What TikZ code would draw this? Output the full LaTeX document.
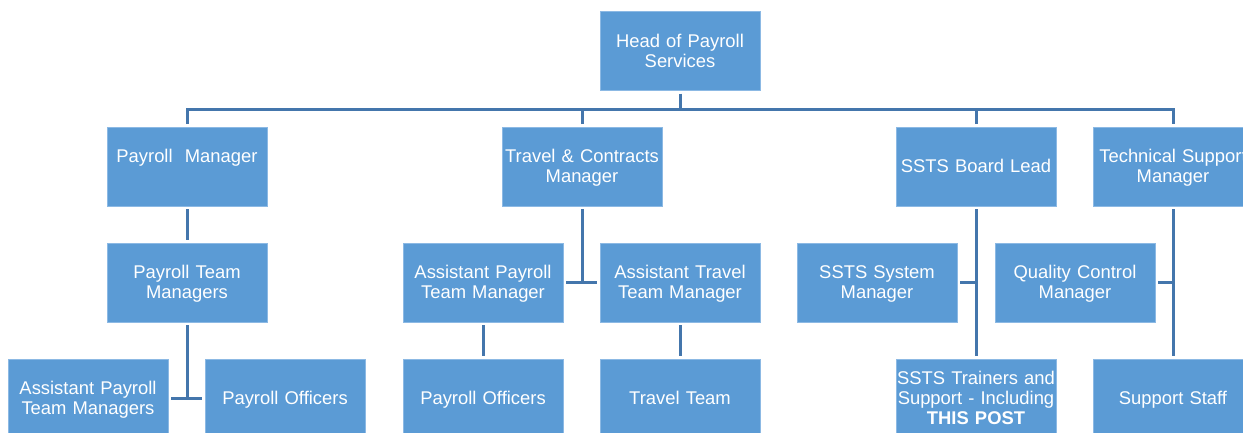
\documentclass[tikz,border=0pt]{standalone}
\usepackage{fontspec}
\setmainfont{Liberation Sans}
\definecolor{boxfill}{RGB}{91,155,213}
\definecolor{boxedge}{RGB}{140,185,228}
\definecolor{linkcol}{RGB}{68,118,172}
\newcommand\firstl{\rule{0pt}{18pt}}
\begin{document}
\begin{tikzpicture}[x=1pt,y=-1pt,
  post/.style={rectangle, fill=boxfill, draw=boxedge, line width=0.8pt,
    minimum width=160pt, minimum height=79pt, inner sep=0pt, outer sep=3pt,
    text=white, align=center, text width=158pt,
    font=\fontsize{18.4}{20}\selectfont},
  link/.style={draw=linkcol, line width=3pt}]
\useasboundingbox (0,0) rectangle (1243,432);
\clip (0,0) rectangle (1243,432);
% row 0
\node[post] (head) at (680,51) {\firstl\strut Head of Payroll\\\strut Services};
% row 1
\node[post] (pm)  at (187,166.5) {\firstl\strut Payroll\ \ Manager\\\strut};
\node[post] (tcm) at (582,166.5) {\firstl\strut Travel \& Contracts\\\strut Manager};
\node[post] (sbl) at (976,166.5) {\firstl\strut SSTS Board Lead};
\node[post] (tsm) at (1173,166.5) {\firstl\strut Technical Support\\\strut Manager};
% row 2
\node[post] (ptm)  at (187,282.5) {\firstl\strut Payroll Team\\\strut Managers};
\node[post] (aptm) at (483,282.5) {\firstl\strut Assistant Payroll\\\strut Team Manager};
\node[post] (attm) at (680,282.5) {\firstl\strut Assistant Travel\\\strut Team Manager};
\node[post] (ssm)  at (877,282.5) {\firstl\strut SSTS System\\\strut Manager};
\node[post] (qcm)  at (1075,282.5) {\firstl\strut Quality Control\\\strut Manager};
% row 3
\node[post] (aptms) at (88,398.5) {\firstl\strut Assistant Payroll\\\strut Team Managers};
\node[post] (po1)   at (285,398.5) {\firstl\strut Payroll Officers};
\node[post] (po2)   at (483,398.5) {\firstl\strut Payroll Officers};
\node[post] (tt)    at (680,398.5) {\firstl\strut Travel Team};
\node[post] (trn)   at (976,398.5) {\firstl\strut SSTS Trainers and\\\strut Support - Including\\\strut\textbf{THIS POST}};
\node[post] (ss)    at (1173,398.5) {\firstl\strut Support Staff};
% bus
\coordinate (busy) at (0,109);
\draw[link] (head.south) -- (head.south |- busy);
\draw[link] (pm.north) -- (pm.north |- busy) -- (tsm.north |- busy) -- (tsm.north);
\draw[link] (tcm.north) -- (tcm.north |- busy);
\draw[link] (sbl.north) -- (sbl.north |- busy);
% payroll branch
\draw[link] (pm.south) -- (ptm.north);
\draw[link] (ptm.south) -- (ptm.south |- aptms.east);
\draw[link] (aptms.east) -- (po1.west);
% travel branch
\draw[link] (tcm.south) -- (tcm.south |- aptm.east);
\draw[link] (aptm.east) -- (attm.west);
\draw[link] (aptm.south) -- (po2.north);
\draw[link] (attm.south) -- (tt.north);
% SSTS branch
\draw[link] (sbl.south) -- (trn.north);
\draw[link] (ssm.east) -- (ssm.east -| sbl.south);
% technical branch
\draw[link] (tsm.south) -- (ss.north);
\draw[link] (qcm.east) -- (qcm.east -| tsm.south);
\end{tikzpicture}
\end{document}
